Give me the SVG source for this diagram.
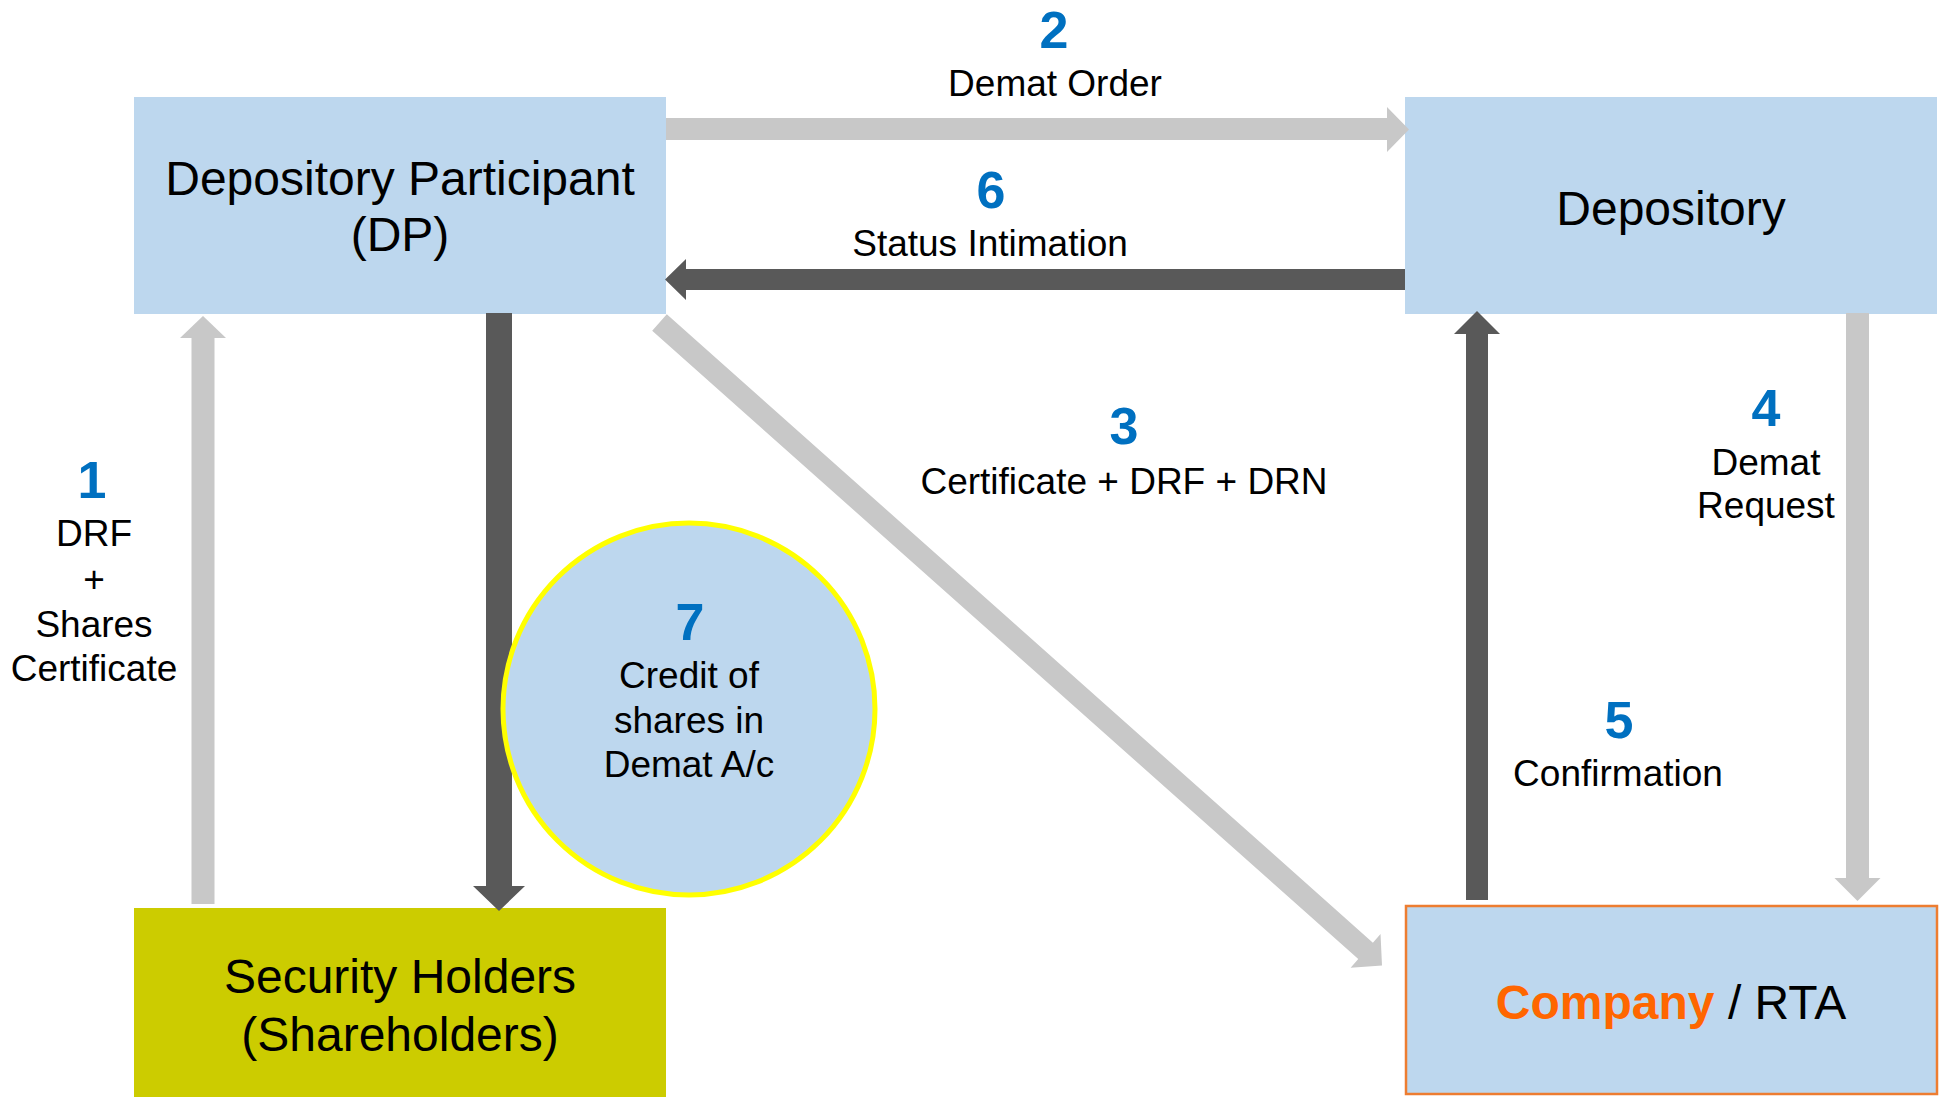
<svg xmlns="http://www.w3.org/2000/svg" width="1945" height="1097" viewBox="0 0 1945 1097">
<style>
  text { font-family: "Liberation Sans", Arial, sans-serif; text-anchor: middle; fill: #000; }
  .box { fill: #BDD7EE; }
  .title { font-size: 48px; }
  .lbl { font-size: 37px; }
  .num { font-size: 52px; font-weight: bold; fill: #0070C0; }
  .light { fill: #C8C8C8; }
  .dark { fill: #595959; }
</style>
<rect width="1945" height="1097" fill="#FFFFFF"/>

<g id="node-dp">
  <rect class="box" x="134" y="97" width="532" height="217"/>
  <text class="title" x="400" y="195">Depository Participant</text>
  <text class="title" x="400" y="251">(DP)</text>
</g>

<g id="node-depository">
  <rect class="box" x="1405" y="97" width="532" height="217"/>
  <text class="title" x="1671" y="225">Depository</text>
</g>

<g id="node-security-holders">
  <rect x="134" y="908" width="532" height="189" fill="#CCCC00"/>
  <text class="title" x="400" y="993">Security Holders</text>
  <text class="title" x="400" y="1051">(Shareholders)</text>
</g>

<g id="node-company">
  <rect class="box" x="1406" y="906" width="531" height="188" stroke="#ED7D31" stroke-width="2.5"/>
  <text class="title" x="1671" y="1019"><tspan font-weight="bold" fill="#FF6600">Company</tspan> / RTA</text>
</g>

<g id="connectors">
  <polygon class="light" points="666,118 1387,118 1387,107 1409,129.5 1387,152 1387,140 666,140"/>
  <polygon class="dark" points="1405,269 686,269 686,259 665,279.5 686,300 686,290 1405,290"/>
  <polygon class="dark" points="486,313 512,313 512,886 525,886 499,911 473,886 486,886"/>
  <polygon class="light" points="191.5,904 191.5,338 180,338 203,316 226,338 214.5,338 214.5,904"/>
  <polygon class="dark" points="1466,900 1466,334 1454,334 1477,311 1500,334 1488,334 1488,900"/>
  <polygon class="light" points="1846,313 1869,313 1869,878 1880.5,878 1857.5,901 1834.5,878 1846,878"/>
  <polygon class="light" points="666.81,314.28 1372.88,942.65 1380.53,934.06 1382,965.5 1350.61,967.68 1358.26,959.09 652.19,330.72"/>
</g>

<g id="node-credit">
  <circle cx="689" cy="709" r="186" fill="#BDD7EE" stroke="#FFFF00" stroke-width="5"/>
  <text class="num" x="690" y="640">7</text>
  <text class="lbl" x="689" y="688">Credit of</text>
  <text class="lbl" x="689" y="733">shares in</text>
  <text class="lbl" x="689" y="777">Demat A/c</text>
</g>

<g id="labels">
  <text class="num" x="1054" y="48">2</text>
  <text class="lbl" x="1055" y="96">Demat Order</text>
  <text class="num" x="991" y="208">6</text>
  <text class="lbl" x="990" y="256" font-size="35.5">Status Intimation</text>
  <text class="num" x="1124" y="444">3</text>
  <text class="lbl" x="1124" y="494">Certificate + DRF + DRN</text>
  <text class="num" x="1766" y="426">4</text>
  <text class="lbl" x="1766" y="475">Demat</text>
  <text class="lbl" x="1766" y="518">Request</text>
  <text class="num" x="1619" y="738">5</text>
  <text class="lbl" x="1618" y="786">Confirmation</text>
  <text class="num" x="92" y="498">1</text>
  <text class="lbl" x="94" y="546">DRF</text>
  <text class="lbl" x="94" y="592">+</text>
  <text class="lbl" x="94" y="637">Shares</text>
  <text class="lbl" x="94" y="681">Certificate</text>
</g>
</svg>
